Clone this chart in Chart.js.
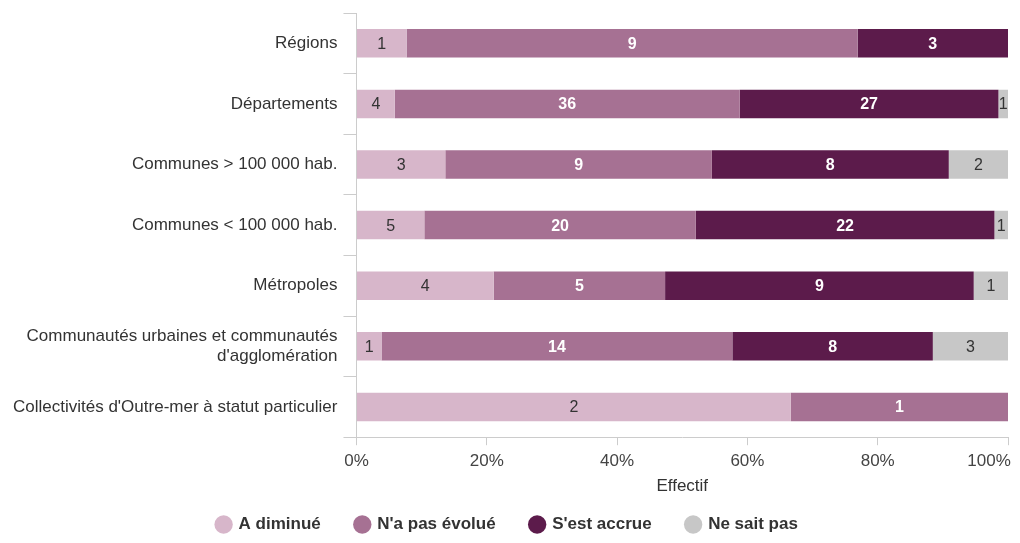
<!DOCTYPE html>
<html lang="fr">
<head>
<meta charset="utf-8">
<script src="https://cdn.jsdelivr.net/npm/chart.js@4/dist/chart.umd.min.js"></script>
<style>
  html, body { margin: 0; padding: 0; background: #ffffff; }
  #wrap { width: 1020px; height: 543px; position: relative; }
</style>
</head>
<body>
<div id="wrap"><canvas id="chart"></canvas></div>
<script>
// Catégories de collectivités
const categories = [
  "Régions",
  "Départements",
  "Communes > 100 000 hab.",
  "Communes < 100 000 hab.",
  "Métropoles",
  ["Communautés urbaines et communautés", "d'agglomération"],
  "Collectivités d'Outre-mer à statut particulier"
];

// Effectifs par réponse
const aDiminue     = [1, 4, 3, 5, 4, 1, 2];
const nAPasEvolue  = [9, 36, 9, 20, 5, 14, 1];
const sEstAccrue   = [3, 27, 8, 22, 9, 8, 0];
const neSaitPas    = [0, 1, 2, 1, 1, 3, 0];

const xTicks = [0, 20, 40, 60, 80, 100];

const FONT = "'Liberation Sans', Arial, sans-serif";

const series = [
  { label: "A diminué",      counts: aDiminue,    color: "#d7b6ca", text: "#333333", bold: false },
  { label: "N'a pas évolué", counts: nAPasEvolue, color: "#a67193", text: "#ffffff", bold: true },
  { label: "S'est accrue",   counts: sEstAccrue,  color: "#5c1b4b", text: "#ffffff", bold: true },
  { label: "Ne sait pas",    counts: neSaitPas,   color: "#c7c7c7", text: "#333333", bold: false }
];

const totals = categories.map((_, i) => series.reduce((s, d) => s + d.counts[i], 0));

// Écrit l'effectif au centre de chaque segment
const countLabels = {
  id: "countLabels",
  afterDatasetsDraw(chart) {
    const ctx = chart.ctx;
    ctx.save();
    ctx.textAlign = "center";
    ctx.textBaseline = "middle";
    chart.data.datasets.forEach((ds, di) => {
      const meta = chart.getDatasetMeta(di);
      ctx.font = (ds.boldLabel ? "bold " : "") + "16px " + FONT;
      ctx.fillStyle = ds.textColor;
      meta.data.forEach((bar, i) => {
        const n = ds.counts[i];
        if (!n) return;
        const p = bar.getProps(["x", "base", "y"], true);
        ctx.fillText(String(n), (p.x + p.base) / 2, p.y + 1);
      });
    });
    ctx.restore();
  }
};

// Remonte le haut de la légende sous le titre de l'axe
const legendOffset = {
  id: "legendOffset",
  afterLayout(chart) {
    const lg = chart.legend;
    if (!lg) return;
    lg.top -= 22;
    lg.height = lg.bottom - lg.top;
  }
};

new Chart(document.getElementById("chart"), {
  type: "bar",
  data: {
    labels: categories,
    datasets: series.map(s => ({
      label: s.label,
      counts: s.counts,
      textColor: s.text,
      boldLabel: s.bold,
      data: s.counts.map((v, i) => v / totals[i] * 100),
      backgroundColor: s.color,
      borderWidth: 0,
      categoryPercentage: 1,
      barPercentage: 0.47
    }))
  },
  options: {
    indexAxis: "y",
    responsive: true,
    maintainAspectRatio: false,
    animation: false,
    layout: { padding: { left: 7, right: 12, top: 13, bottom: 0 } },
    plugins: {
      tooltip: { enabled: false },
      legend: {
        position: "bottom",
        maxHeight: 40,
        labels: {
          usePointStyle: true,
          pointStyle: "circle",
          boxWidth: 13,
          boxHeight: 13,
          padding: 35,
          color: "#333333",
          font: { family: FONT, size: 17, weight: "bold" }
        }
      }
    },
    scales: {
      x: {
        stacked: true,
        min: 0,
        max: 100,
        afterBuildTicks(axis) { axis.ticks = xTicks.map(v => ({ value: v })); },
        afterFit(axis) { axis.paddingRight = 0; },
        ticks: {
          callback: v => v === 100 ? "100%\u2007\u2007\u2007\u2007" : v + "%",
          color: "#444444",
          padding: 6,
          maxRotation: 0,
          font: { family: FONT, size: 17 }
        },
        grid: { drawOnChartArea: false, tickLength: 8, color: "#cccccc" },
        border: { color: "#cccccc" },
        title: {
          display: true,
          text: "Effectif",
          color: "#333333",
          padding: { top: -1, bottom: 6 },
          font: { family: FONT, size: 17 }
        }
      },
      y: {
        stacked: true,
        afterFit(axis) { axis.paddingTop = 0; },
        ticks: {
          color: "#333333",
          padding: 6,
          font: { family: FONT, size: 17 }
        },
        grid: { drawOnChartArea: false, offset: true, tickLength: 13, color: "#cccccc" },
        border: { color: "#cccccc" }
      }
    }
  },
  plugins: [countLabels, legendOffset]
});
</script>
</body>
</html>
